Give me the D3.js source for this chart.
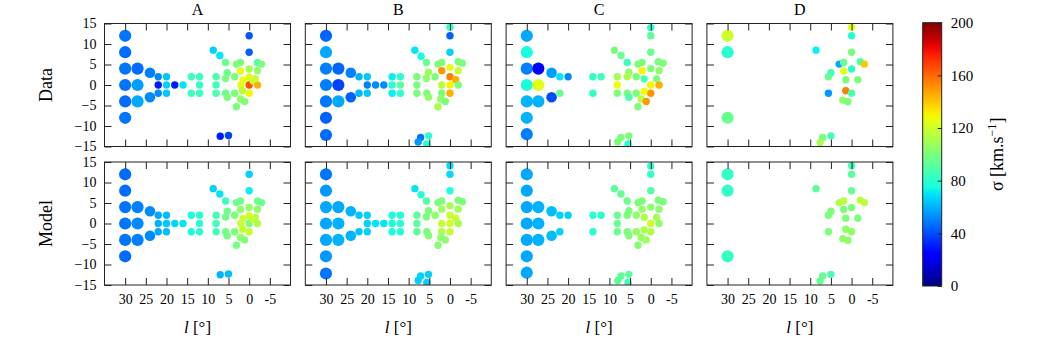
<!DOCTYPE html>
<html>
<head>
<meta charset="utf-8">
<script src="https://cdn.jsdelivr.net/npm/d3@7"></script>
<style>
  body { margin: 0; background: #fff; }
  text { font-family: "Liberation Serif", "DejaVu Serif", serif; fill: #000; }
</style>
</head>
<body>
<svg id="chart" width="1050" height="339"></svg>
<script>
// fields: [l, b, sigma data, sigma model]
const fieldsA = [
  [30,12,48,46],[30,8,46,46],[30,4,48,48],[30,0,48,48],[30,-4,46,48],[30,-8,48,46],
  [27,4,46,50],[27,0,56,52],[27,-4,58,50],
  [24,3,50,52],[24,-3,52,52],
  [22,2,52,58],[22,0,30,60],[22,-2,52,58],
  [20,2,64,62],[20,0,66,64],[20,-2,64,62],
  [18,0,30,66],[16,0,70,70],
  [14,2,84,76],[14,-2,84,76],
  [12,2,84,80],[12,0,82,80],[12,-2,84,80],
  [8,2,88,86],[8,0,84,86],[8,-2,88,86],
  [8.7,8.5,66,66],[7.1,7.2,70,70],[5.7,5.5,96,84],
  [5.3,3,96,96],[5.7,1.6,100,98],[5.7,-2,96,98],[5.3,-3,100,98],
  [3.5,2,100,100],[3.5,-2,100,100],
  [3.1,5.1,100,96],[2.1,5.5,100,96],[2.1,3.4,125,104],[0,3.9,110,106],
  [1.5,1.2,125,118],[0,1.9,125,120],[2,0,125,118],[0,0,165,100],[-1,1,118,118],
  [-2,0,145,112],[0,-2,130,118],[1.6,-1.4,115,118],
  [2.1,-3.4,105,104],[1.1,-4,100,102],[3.1,-5.3,100,98],
  [-2,3.5,105,104],[-2,5.5,90,96],[-3,5.1,100,96],[-1.5,1.5,118,116],
  [0,12,42,66],[0,8,44,72],
  [7,-12.5,30,60],[5,-12.3,38,62]
];
const fieldsB = [
  [30,12,45,48],[30,8,58,55],[30,4,50,58],[30,0,50,58],[30,-4,48,58],[30,-8,44,55],[30,-12.2,46,48],
  [27,4,45,58],[27,0,38,60],[27,-4,58,60],
  [24,3,50,60],[24,-3,44,60],
  [22,2,60,64],[22,-2,60,64],[20,2,64,66],[20,0,50,66],[20,-2,64,66],
  [18,0,52,70],[16,0,52,70],
  [14,2,72,76],[12,2,80,78],[14,0,80,76],[12,0,92,78],[14,-2,72,76],[12,-2,80,78],
  [8.5,8.5,70,70],[7,7,75,80],[5.7,5.5,95,90],
  [8,2,100,92],[8,0,100,92],[8,-2,100,92],
  [5.2,3.1,108,100],[5.7,1.6,105,100],[5.6,-2,100,100],[5.2,-3,105,102],
  [3.6,2,100,104],[2.9,5.1,100,100],[2,5.5,100,100],[2,3.5,150,108],[0,4.3,125,110],
  [0,2,155,118],[-1.4,1.3,145,118],[0,0,130,122],[2,0,115,118],[0,-2,145,118],[2,-2,100,112],[-2,0,100,110],
  [-2,5.7,100,100],[-3,5.3,100,100],[-2,3.5,118,108],
  [2.9,-5.3,110,102],[2.2,-3.4,105,104],[1.1,-4,100,104],
  [0,14.1,80,68],[0,12,44,68],[0,8,66,78],
  [7.1,-12.8,48,66],[7.7,-13.9,55,66],[5.2,-12.4,80,66],[5.6,-14.4,78,66]
];
const fieldsC = [
  [30,12,58,58],[30,8,76,58],[30,4,50,58],[30,0,76,58],[30,-4,60,58],[30,-8,60,58],[30,-12,50,58],
  [27.2,4,25,60],[27.2,0,125,60],[27.2,-4,60,60],
  [24,3,56,62],[24,-3,40,62],
  [22,2,70,66],[20,2,52,66],[22,-2,95,66],
  [14,2,82,80],[12,2,85,80],[14,-2,82,80],
  [8.8,8.5,100,92],[7.2,7.2,95,94],[5.7,5.5,85,96],
  [8.1,2,110,95],[8.1,0,128,95],[8.1,-2,100,95],
  [5.3,3.1,105,100],[5.7,2,112,100],[5.7,-2,100,100],[5.3,-3,88,100],
  [3.5,2,100,104],[3.1,5.1,100,100],[2.1,5.5,100,100],[2.1,3.5,130,106],[1.6,1.5,88,112],
  [1.6,-1.6,128,112],[3.5,-2,100,106],[2.3,-3.4,115,106],[1.1,-4,150,108],[3.1,-5.3,100,102],
  [0,14,80,80],[0,12,92,82],[0,8,95,90],[0,4,100,104],[0,0,130,120],[0,-2,150,112],
  [-1.8,5.7,100,100],[-3,5.3,100,100],[-2,3.5,105,104],[-1.4,1.5,100,110],[-2,0,145,104],
  [7.2,-12.8,100,92],[8,-13.9,100,92],[5.3,-12.4,100,92],[5.5,-14.4,80,85]
];
const fieldsD = [
  [30,12,120,82],[30,8,80,82],[30,-8,95,82],
  [0,14.1,125,88],[0,12,80,92],[8.6,8.5,72,92],[0,8,100,95],
  [3,5.1,58,112],[1.9,5.5,95,115],[-2.1,5.7,88,115],[-3.1,5.1,140,115],
  [0,3.9,80,100],[1.9,3.4,125,100],[5,3,85,100],[5.6,2,95,100],
  [1.4,1.3,100,100],[-1.5,1.3,100,100],
  [5.6,-2,55,100],[1.4,-1.4,155,105],[0,-2,88,105],
  [2.1,-3.7,105,105],[0.9,-4.1,100,105],
  [7,-12.8,100,95],[7.6,-14,110,95],[5,-12.4,85,88]
];

const panelNames = ['A', 'B', 'C', 'D'];
const panelFields = [fieldsA, fieldsB, fieldsC, fieldsD];
const rowNames = ['Data', 'Model'];
const xTicks = [30, 25, 20, 15, 10, 5, 0, -5];
const yTicks = [15, 10, 5, 0, -5, -10, -15];
const cbarTicks = [0, 40, 80, 120, 160, 200];

const svg = d3.select('#chart');

const panelLeft = 104.5, panelStep = 200.8, panelW = 186, panelH = 123;
const rowTop = [23.5, 162];
const tickLen = 7;

const x = d3.scaleLinear().domain([35, -10]).range([0, panelW]);
const y = d3.scaleLinear().domain([-15, 15]).range([panelH, 0]);

// matplotlib 'jet'
function channel(stops) {
  return d3.scaleLinear().domain(stops.map(s => s[0])).range(stops.map(s => s[1])).clamp(true);
}
const jr = channel([[0, 0], [0.35, 0], [0.66, 1], [0.89, 1], [1, 0.5]]);
const jg = channel([[0, 0], [0.125, 0], [0.375, 1], [0.64, 1], [0.91, 0], [1, 0]]);
const jb = channel([[0, 0.5], [0.11, 1], [0.34, 1], [0.65, 0], [1, 0]]);
const norm = d3.scaleLinear().domain([0, 200]).range([0, 1]).clamp(true);
const jet = v => { const t = norm(v); return d3.rgb(jr(t) * 255, jg(t) * 255, jb(t) * 255).toString(); };

// bigger markers for the outer fields
const radius = d3.scaleThreshold().domain([22.5, 25.5]).range([3.7, 5.3, 6.1]);

const defs = svg.append('defs');

rowNames.forEach((rowName, r) => {
  panelFields.forEach((fields, p) => {
    const g = svg.append('g')
      .attr('transform', `translate(${panelLeft + p * panelStep},${rowTop[r]})`);

    const clipId = `clip-${r}-${p}`;
    defs.append('clipPath').attr('id', clipId)
      .append('rect').attr('width', panelW).attr('height', panelH);

    g.append('g').attr('clip-path', `url(#${clipId})`)
      .selectAll('circle')
      .data(fields)
      .enter()
      .append('circle')
      .attr('cx', d => x(d[0]))
      .attr('cy', d => y(d[1]))
      .attr('r', d => radius(Math.abs(d[0])))
      .style('fill', d => jet(d[2 + r]));

    // ticks on all four sides, pointing in
    const bottom = g.append('g').attr('transform', `translate(0,${panelH})`)
      .call(d3.axisBottom(x).tickValues(xTicks).tickSize(-tickLen).tickPadding(9)
        .tickFormat(d => r === 1 ? String(d) : ''));
    const top = g.append('g')
      .call(d3.axisTop(x).tickValues(xTicks).tickSize(-tickLen).tickFormat(''));
    const left = g.append('g')
      .call(d3.axisLeft(y).tickValues(yTicks).tickSize(-tickLen).tickPadding(8)
        .tickFormat(d => p === 0 ? d3.format('d')(d) : ''));
    const right = g.append('g').attr('transform', `translate(${panelW},0)`)
      .call(d3.axisRight(y).tickValues(yTicks).tickSize(-tickLen).tickFormat(''));

    [bottom, top, left, right].forEach(a => {
      a.select('.domain').remove();
      a.selectAll('line').style('stroke', '#222').style('stroke-width', 1);
      a.selectAll('text').style('font-size', '14px').style('fill', '#000')
        .style('font-family', '"Liberation Serif", "DejaVu Serif", serif');
    });

    g.append('rect')
      .attr('width', panelW).attr('height', panelH)
      .style('fill', 'none').style('stroke', '#222').style('stroke-width', 1);

    if (r === 0) {
      g.append('text')
        .attr('x', panelW / 2).attr('y', -9)
        .attr('text-anchor', 'middle')
        .style('font-size', '16px')
        .text(panelNames[p]);
    } else {
      const lab = g.append('text')
        .attr('x', panelW / 2).attr('y', panelH + 48)
        .attr('text-anchor', 'middle')
        .style('font-size', '17px');
      lab.append('tspan').style('font-style', 'italic').text('l');
      lab.append('tspan').text(' [°]');
    }
  });

  svg.append('text')
    .attr('transform', `translate(52,${rowTop[r] + panelH / 2}) rotate(-90)`)
    .attr('text-anchor', 'middle')
    .style('font-size', '18px')
    .text(rowName);
});

// colorbar
const cbX = 922.7, cbW = 19, cbTop = 22.7, cbBottom = 286;
const cb = d3.scaleLinear().domain([0, 200]).range([cbBottom, cbTop]);

const grad = defs.append('linearGradient').attr('id', 'jetgrad')
  .attr('x1', 0).attr('y1', 1).attr('x2', 0).attr('y2', 0);
d3.range(0, 201, 5).forEach(v => {
  grad.append('stop').attr('offset', v / 200).attr('stop-color', jet(v));
});

svg.append('rect')
  .attr('x', cbX).attr('y', cbTop).attr('width', cbW).attr('height', cbBottom - cbTop)
  .style('fill', 'url(#jetgrad)').style('stroke', '#222').style('stroke-width', 1);

const cbAxis = svg.append('g').attr('transform', `translate(${cbX + cbW},0)`)
  .call(d3.axisRight(cb).tickValues(cbarTicks).tickSize(-4).tickPadding(9));
cbAxis.select('.domain').remove();
cbAxis.selectAll('line').style('stroke', '#222');
cbAxis.selectAll('text').style('font-size', '15px').style('fill', '#000')
  .style('font-family', '"Liberation Serif", "DejaVu Serif", serif');

const cbLabel = svg.append('text')
  .attr('transform', `translate(1003,${(cbTop + cbBottom) / 2}) rotate(-90)`)
  .attr('text-anchor', 'middle')
  .style('font-size', '18px');
cbLabel.append('tspan').text('σ [km.s');
cbLabel.append('tspan').attr('dy', -7).style('font-size', '12px').text('−1');
cbLabel.append('tspan').attr('dy', 7).text(']');
</script>
</body>
</html>
